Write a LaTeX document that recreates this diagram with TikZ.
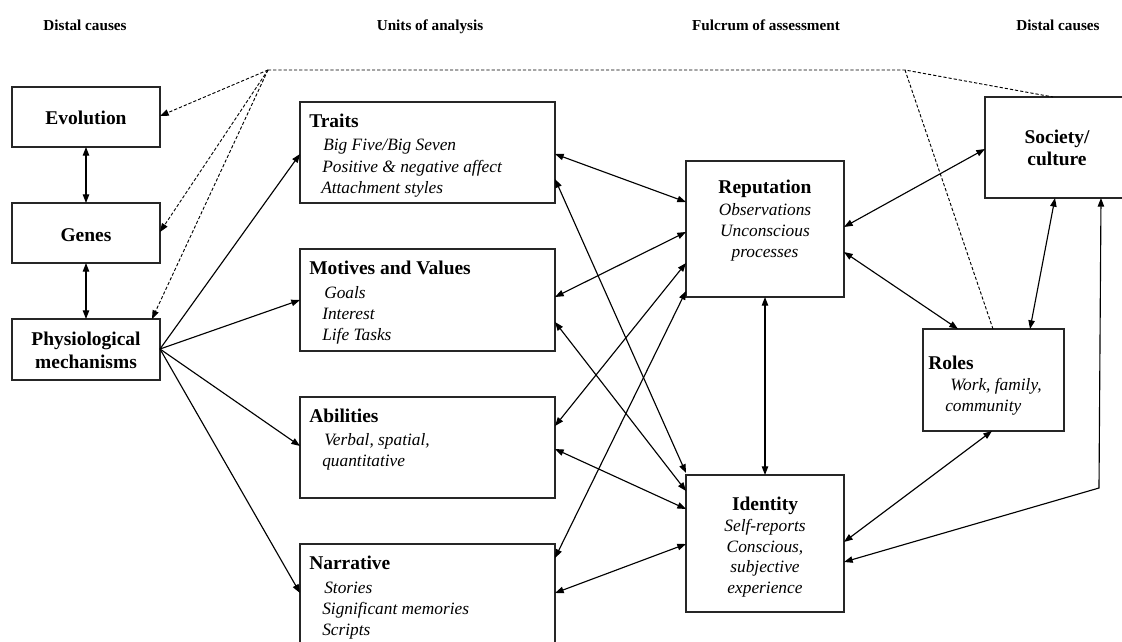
\documentclass[tikz,border=0pt]{standalone}
\usepackage{fontspec}
\setmainfont{Liberation Serif}
\usetikzlibrary{arrows.meta,fit,calc}

\begin{document}
\begin{tikzpicture}[x=0.75pt,y=-0.75pt,
  box/.style={draw=black!85, line width=1.05pt, inner sep=0pt, outer sep=0pt},
  link/.style={line width=0.85pt, {Triangle[length=6.5pt,width=4.8pt]}-{Triangle[length=6.5pt,width=4.8pt]}},
  feed/.style={line width=0.85pt, -{Triangle[length=6.5pt,width=4.8pt]}},
  cue/.style={line width=0.7pt, dash pattern=on 2.4pt off 1.5pt},
  cuearrow/.style={cue, -{Triangle[length=6.5pt,width=4.8pt]}},
  head/.style={font=\fontsize{11.4}{13}\selectfont\bfseries, anchor=base, inner sep=0pt},
  ltitle/.style={font=\fontsize{14.6}{17}\selectfont\bfseries, anchor=base west, inner sep=0pt},
  litem/.style={font=\fontsize{13}{16}\selectfont\itshape, anchor=base west, inner sep=0pt},
  ctitle/.style={font=\fontsize{14.6}{17}\selectfont\bfseries, anchor=base, inner sep=0pt},
  citem/.style={font=\fontsize{13}{16}\selectfont\itshape, anchor=base, inner sep=0pt},
]
\fill[white] (0,0) rectangle (1122,642);
\clip (0,0) rectangle (1122,642);

% column headings
\node[head] (h1) at (85,31) {Distal causes};
\node[head] (h2) at (430,31) {Units of analysis};
\node[head] (h3) at (766,31) {Fulcrum of assessment};
\node[head] (h4) at (1058,31) {Distal causes};

% boxes
\node[box, fit={(12,87) (160,147)}] (evo) {};
\node[box, fit={(12,203) (160,263)}] (genes) {};
\node[box, fit={(12,319) (160,380)}] (phys) {};
\node[box, fit={(300,102) (555,203)}] (traits) {};
\node[box, fit={(300,249) (555,351)}] (motives) {};
\node[box, fit={(300,397) (555,498)}] (abil) {};
\node[box, fit={(300,544) (555,662)}] (narr) {};
\node[box, fit={(686,161) (844,297)}] (rep) {};
\node[box, fit={(686,475) (844,612)}] (ident) {};
\node[box, fit={(985,97) (1140,198)}] (soc) {};
\node[box, fit={(923,329) (1064,431)}] (roles) {};

% left column labels
\node[ctitle] (evo-t) at (86,124) {Evolution};
\node[ctitle] (genes-t) at (86,241) {Genes};
\node[ctitle] (phys-t1) at (86,345) {Physiological};
\node[ctitle] (phys-t2) at (86,368) {mechanisms};

% units of analysis
\node[ltitle] (traits-t) at (309,127.5) {Traits};
\node[litem] (traits-1) at (323,151) {Big Five/Big Seven};
\node[litem] (traits-2) at (322,172.5) {Positive \& negative affect};
\node[litem] (traits-3) at (321,193.5) {Attachment styles};

\node[ltitle] (motives-t) at (309,274.5) {Motives and Values};
\node[litem] (motives-1) at (324,298) {Goals};
\node[litem] (motives-2) at (322,319.5) {Interest};
\node[litem] (motives-3) at (322,340.5) {Life Tasks};

\node[ltitle] (abil-t) at (309,422) {Abilities};
\node[litem] (abil-1) at (324,445) {Verbal, spatial,};
\node[litem] (abil-2) at (322,466.5) {quantitative};

\node[ltitle] (narr-t) at (309,569) {Narrative};
\node[litem] (narr-1) at (324,593) {Stories};
\node[litem] (narr-2) at (322,614.5) {Significant memories};
\node[litem] (narr-3) at (322,635.5) {Scripts};

% fulcrum
\node[ctitle] (rep-t) at (765,194) {Reputation};
\node[citem] (rep-1) at (765,215) {Observations};
\node[citem] (rep-2) at (765,236.5) {Unconscious};
\node[citem] (rep-3) at (765,257.5) {processes};

\node[ctitle] (ident-t) at (765,510) {Identity};
\node[citem] (ident-1) at (765,531) {Self-reports};
\node[citem] (ident-2) at (765,552) {Conscious,};
\node[citem] (ident-3) at (765,572.5) {subjective};
\node[citem] (ident-4) at (765,593) {experience};

% right column
\node[ctitle] (soc-t1) at (1057,144) {Society/};
\node[ctitle] (soc-t2) at (1057,166) {culture};
\node[ltitle] (roles-t) at (928,369) {Roles};
\node[litem] (roles-1) at (950,390) {Work, family,};
\node[litem] (roles-2) at (945,411) {community};

% distal chain
\draw[link] (evo.south) -- (genes.north);
\draw[link] (genes.south) -- (phys.north);

% physiology feeds the units
\draw[feed] (phys.east |- 0,349) -- (traits.west |- 0,154);
\draw[feed] (phys.east |- 0,349) -- (motives.west |- 0,300);
\draw[feed] (phys.east |- 0,349) -- (abil.west |- 0,446);
\draw[feed] (phys.east |- 0,349) -- (narr.west |- 0,593);

% units <-> reputation / identity
\draw[link] (traits.east |- 0,154) -- (rep.west |- 0,202);
\draw[link] (traits.east |- 0,179) -- (ident.west |- 0,473);
\draw[link] (motives.east |- 0,297) -- (rep.west |- 0,232);
\draw[link] (motives.east |- 0,322) -- (ident.west |- 0,491);
\draw[link] (abil.east |- 0,426) -- (rep.west |- 0,263);
\draw[link] (abil.east |- 0,449) -- (ident.west |- 0,509);
\draw[link] (narr.east |- 0,558) -- (rep.west |- 0,291);
\draw[link] (narr.east |- 0,593) -- (ident.west |- 0,544);
\draw[link] (rep.south) -- (ident.north);

% reputation / identity <-> social context
\draw[link] (rep.east |- 0,227) -- (soc.west |- 0,149);
\draw[link] (rep.east |- 0,252) -- (958,0 |- roles.north);
\draw[link] (1055,0 |- soc.south) -- (1030,0 |- roles.north);
\draw[link] (992,0 |- roles.south) -- (ident.east |- 0,542);
\coordinate (drop) at (1099,488);
\draw[link] (1101,0 |- soc.south) -- (drop) -- (ident.east |- 0,562);

% dashed frame of distal influences
\coordinate (apex) at (268,70);
\coordinate (bend) at (905,70);
\draw[cuearrow] (apex) -- (evo.east |- 0,116);
\draw[cuearrow] (apex) -- (genes.east |- 0,232);
\draw[cuearrow] (apex) -- (152,0 |- phys.north);
\draw[cue] (apex) -- (bend) -- (1053,0 |- soc.north);
\draw[cue] (bend) -- (993,0 |- roles.north);
\end{tikzpicture}
\end{document}
